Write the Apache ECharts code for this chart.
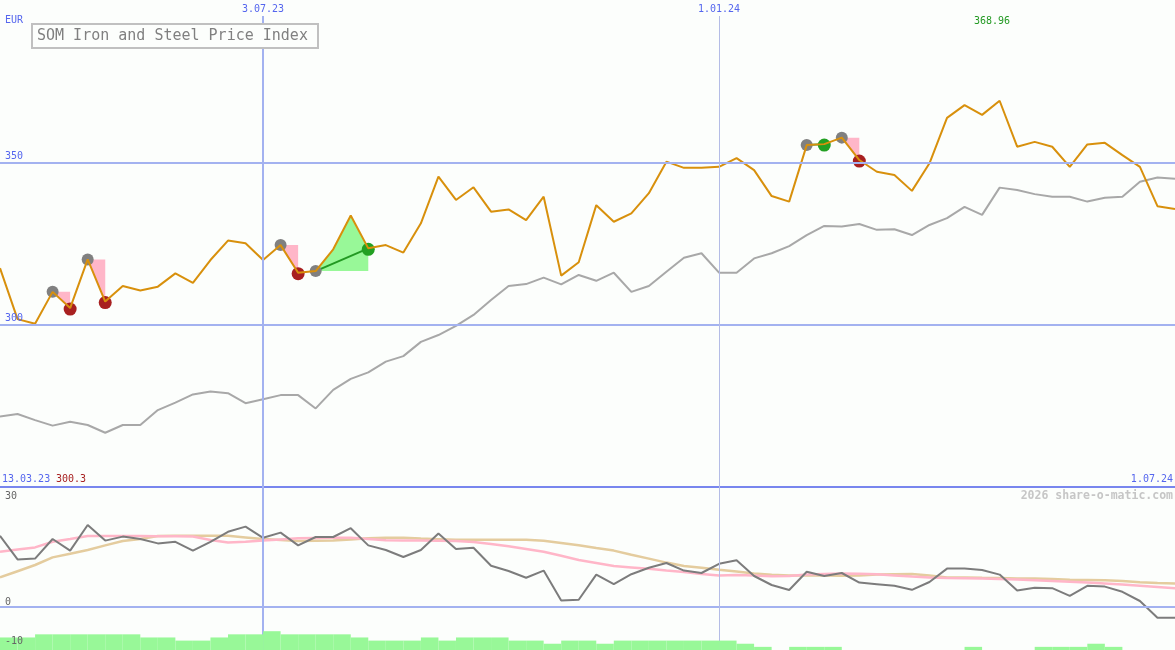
<!DOCTYPE html>
<html>
<head>
<meta charset="utf-8">
<script src="https://cdn.jsdelivr.net/npm/echarts@6/dist/echarts.min.js"></script>
<style>
html,body{margin:0;padding:0;background:#fcfefc;}
#chart{width:1175px;height:650px;}
</style>
</head>
<body>
<div id="chart"></div>
<script>
// Weekly dates (categories)
const dates = ['20.03.23','27.03.23','3.04.23','10.04.23','17.04.23','24.04.23','1.05.23','8.05.23','15.05.23','22.05.23',
 '29.05.23','5.06.23','12.06.23','19.06.23','26.06.23','3.07.23','10.07.23','17.07.23','24.07.23','31.07.23',
 '7.08.23','14.08.23','21.08.23','28.08.23','4.09.23','11.09.23','18.09.23','25.09.23','2.10.23','9.10.23',
 '16.10.23','23.10.23','30.10.23','6.11.23','13.11.23','20.11.23','27.11.23','4.12.23','11.12.23','18.12.23',
 '25.12.23','1.01.24','8.01.24','15.01.24','22.01.24','29.01.24','5.02.24','12.02.24','19.02.24','26.02.24',
 '4.03.24','11.03.24','18.03.24','25.03.24','1.04.24','8.04.24','15.04.24','22.04.24','29.04.24','6.05.24',
 '13.05.24','20.05.24','27.05.24','3.06.24','10.06.24','17.06.24','24.06.24','1.07.24'];

// Price index (EUR)
const price = [317.4,301.7,300.3,310.1,305.1,320.1,307.1,311.9,310.5,311.7,
 315.8,312.9,319.9,325.9,325.1,319.9,324.5,316.0,316.5,323.2,
 333.6,323.5,324.5,322.2,331.2,345.6,338.4,342.3,334.8,335.5,
 332.2,339.4,315.1,319.2,336.8,331.7,334.3,340.5,350.2,348.3,
 348.3,348.6,351.3,347.6,339.6,337.9,355.3,355.6,357.6,350.7,
 347.1,346.1,341.2,349.7,363.7,367.6,364.6,368.96,354.8,356.3,
 354.8,348.6,355.5,356.0,352.2,348.6,336.5,335.6];

// Moving average (gray)
const movingAvg = [271.7,272.5,270.6,268.9,270.1,269.1,266.7,269.1,269.1,273.7,
 276.0,278.5,279.4,278.9,275.8,277.0,278.3,278.3,274.2,279.9,
 283.3,285.3,288.6,290.3,294.7,296.8,299.6,303.0,307.6,311.9,
 312.5,314.5,312.4,315.3,313.5,316.0,310.1,311.9,316.3,320.6,
 322.0,316.0,316.0,320.4,322.0,324.2,327.6,330.4,330.2,331.0,
 329.2,329.4,327.6,330.7,332.8,336.3,333.8,342.2,341.5,340.2,
 339.4,339.4,337.9,339.1,339.4,344.0,345.3,344.9];

// Lower panel oscillator
const osc = [17.8,11.9,12.1,17.0,14.1,20.5,16.6,17.6,17.0,15.9,
 16.3,14.1,16.3,18.8,20.1,17.3,18.6,15.4,17.5,17.5,
 19.7,15.4,14.25,12.5,14.25,18.4,14.5,14.8,10.3,9.0,
 7.3,9.1,1.6,1.8,8.1,5.7,8.2,9.8,11.0,9.1,
 8.5,10.8,11.7,7.75,5.5,4.25,8.8,7.75,8.5,6.1,
 5.7,5.3,4.3,6.25,9.6,9.6,9.25,8.1,4.1,4.8,
 4.7,2.8,5.3,5.1,3.8,1.5,-2.7,-2.7];
const oscPink = [13.8,14.4,14.9,16.3,17.0,17.75,17.75,17.75,17.75,17.7,
 17.7,17.6,16.75,16.1,16.3,16.6,16.9,17.2,17.25,17.3,
 17.3,17.0,16.7,16.6,16.6,16.55,16.5,16.25,15.75,15.2,
 14.5,13.8,12.8,11.75,11.0,10.25,9.9,9.55,9.1,8.75,
 8.25,7.9,8.0,7.9,7.7,7.75,8.1,8.25,8.4,8.3,
 8.2,7.9,7.6,7.4,7.25,7.2,7.15,7.0,6.9,6.7,
 6.5,6.3,6.1,5.85,5.6,5.3,5.0,4.7];
const oscTan = [7.4,8.95,10.5,12.4,13.3,14.25,15.4,16.5,17.0,17.75,
 17.8,17.8,17.8,17.8,17.4,17.0,16.75,16.5,16.55,16.6,
 16.9,17.2,17.3,17.3,17.1,16.95,16.8,16.8,16.8,16.8,
 16.8,16.55,16.0,15.45,14.75,14.1,13.05,12.1,11.1,10.25,
 9.8,9.3,8.85,8.4,8.05,7.9,7.9,7.9,7.8,7.9,
 8.1,8.2,8.25,7.85,7.4,7.4,7.3,7.25,7.15,7.1,
 7.0,6.8,6.75,6.7,6.5,6.2,6.0,5.9];

// Weekly histogram (one bar per week interval)
const histo = [4,4,5,5,5,5,5,5,4,4,3,3,4,5,5,6,5,5,5,5,4,3,3,3,4,3,4,4,4,3,3,2,3,3,2,3,3,3,3,3,3,3,2,1,0,1,1,1,0,0,0,0,0,0,0,1,0,0,0,1,1,1,2,1,0,0,0];

// Signals: [type, fromIndex, toIndex]
const signals = [['fall',3,4],['fall',5,6],['fall',16,17],['rise',18,21],['rise',46,47],['fall',48,49]];

// Tick / annotation labels
const priceTicks = [350, 300];
const oscTicks = ['30','0','-10'];
const markDates = ['3.07.23','1.01.24'];
const startLabel = '13.03.23', endLabel = '1.07.24', maxLabel = '368.96', minLabel = '300.3';
const title = 'SOM Iron and Steel Price Index';
const unit = 'EUR';
const credit = '2026 share-o-matic.com';

const MONO = '"DejaVu Sans Mono", "Liberation Mono", monospace';
const BLUE_TXT = '#5566ee';
const LIGHT_BLUE = '#a3b2f0';

const chart = echarts.init(document.getElementById('chart'));

const smallLabel = (txt, color) => ({show:true, formatter: txt, color: color, fontFamily: MONO, fontSize: 10});

const option = {
  backgroundColor: '#fcfefc',
  animation: false,
  grid: [
    {left:0, right:0, top:16, height:471},
    {left:0, right:0, top:487, height:163}
  ],
  xAxis: [
    {type:'category', data:dates, boundaryGap:false, gridIndex:0, show:false},
    {type:'category', data:dates, boundaryGap:false, gridIndex:1, show:false},
    {type:'category', data:dates.slice(0, dates.length-1), boundaryGap:true, gridIndex:1, show:false}
  ],
  yAxis: [
    {type:'value', min:250, max:395.06, gridIndex:0, show:false},
    {type:'value', min:-10.75, max:30, gridIndex:1, show:false},
    {type:'value', min:0, max:52, gridIndex:1, show:false}
  ],
  graphic: [
    {type:'text', left:5, top:15, style:{text:unit, fill:BLUE_TXT, font:'10px '+MONO}},
    {type:'rect', shape:{x:32, y:24, width:286, height:24}, style:{fill:'#fcfefc', stroke:'#c0c0c0', lineWidth:2}, z:10},
    {type:'text', x:37, y:36, style:{text:title, fill:'#808080', font:'15px '+MONO, textVerticalAlign:'middle'}, z:11},
    {type:'text', x:992, y:21, style:{text:maxLabel, fill:'#229922', font:'10px '+MONO, textAlign:'center', textVerticalAlign:'middle'}},
    {type:'text', x:2, y:479, style:{text:startLabel, fill:BLUE_TXT, font:'10px '+MONO, textVerticalAlign:'middle'}},
    {type:'text', x:56, y:479, style:{text:minLabel, fill:'#a82222', font:'10px '+MONO, textVerticalAlign:'middle'}},
    {type:'text', x:1173, y:479, style:{text:endLabel, fill:BLUE_TXT, font:'10px '+MONO, textAlign:'right', textVerticalAlign:'middle'}},
    {type:'text', x:5, y:496, style:{text:oscTicks[0], fill:'#666666', font:'10px '+MONO, textVerticalAlign:'middle'}},
    {type:'text', x:5, y:602, style:{text:oscTicks[1], fill:'#666666', font:'10px '+MONO, textVerticalAlign:'middle'}},
    {type:'text', x:5, y:641, style:{text:oscTicks[2], fill:'#666666', font:'10px '+MONO, textVerticalAlign:'middle'}, z:20},
    {type:'text', x:1173, y:496, style:{text:credit, fill:'#c6c6c6', font:'bold 11.5px '+MONO, textAlign:'right', textVerticalAlign:'middle'}}
  ],
  series: [
    {
      name:'signals', type:'custom', xAxisIndex:0, yAxisIndex:0, z:1,
      data: signals.map(s => [s[1], price[s[1]]]),
      renderItem: function(params, api){
        const s = signals[params.dataIndex];
        const a = s[1], b = s[2];
        const pa = api.coord([a, price[a]]);
        const pb = api.coord([b, price[b]]);
        const children = [];
        if (s[0] === 'fall') {
          children.push({type:'polygon', shape:{points:[pa, [pb[0], pa[1]], pb]}, style:{fill:'#ffb6c8'}});
        } else {
          const pts = [];
          for (let k = a; k <= b; k++) pts.push(api.coord([k, price[k]]));
          pts.push([pb[0], pa[1]]);
          children.push({type:'polygon', shape:{points:pts}, style:{fill:'#98f898'}});
          children.push({type:'line', shape:{x1:pa[0], y1:pa[1], x2:pb[0], y2:pb[1]}, style:{stroke:'#229922', lineWidth:2}});
        }
        children.push({type:'circle', shape:{cx:pa[0], cy:pa[1], r:6}, style:{fill:'#808080'}});
        children.push({type:'circle', shape:{cx:pb[0], cy:pb[1]+1, r:6.5}, style:{fill: s[0]==='fall' ? '#a82020' : '#22a022'}});
        return {type:'group', children: children};
      }
    },
    {
      name:'avg', type:'line', xAxisIndex:0, yAxisIndex:0, data:movingAvg, symbol:'none', z:2,
      lineStyle:{color:'#a8a8a8', width:2},
      markLine: {
        silent:true, symbol:'none', animation:false,
        data: [
          {yAxis:priceTicks[0], lineStyle:{color:LIGHT_BLUE, width:2, type:'solid'},
            label:Object.assign(smallLabel(String(priceTicks[0]), BLUE_TXT), {position:'insideStartTop', distance:[5,1]})},
          {yAxis:priceTicks[1], lineStyle:{color:LIGHT_BLUE, width:2, type:'solid'},
            label:Object.assign(smallLabel(String(priceTicks[1]), BLUE_TXT), {position:'insideStartTop', distance:[5,1]})},
          {yAxis:250, lineStyle:{color:'#7886ee', width:2, type:'solid'}, label:{show:false}},
          {xAxis:markDates[0], lineStyle:{color:LIGHT_BLUE, width:2, type:'solid'},
            label:Object.assign(smallLabel(markDates[0], BLUE_TXT), {position:'end', distance:2})},
          {xAxis:markDates[1], lineStyle:{color:'#b4bce6', width:1, type:'solid'},
            label:Object.assign(smallLabel(markDates[1], BLUE_TXT), {position:'end', distance:2})}
        ]
      }
    },
    {
      name:'price', type:'line', xAxisIndex:0, yAxisIndex:0, data:price, symbol:'none', z:3,
      lineStyle:{color:'#d8900c', width:2}
    },
    {
      name:'histo', type:'bar', xAxisIndex:2, yAxisIndex:2, data:histo, barCategoryGap:'0%', z:5,
      itemStyle:{color:'#98f898'}
    },
    {
      name:'tan', type:'line', xAxisIndex:1, yAxisIndex:1, data:oscTan, symbol:'none', z:2,
      lineStyle:{color:'#e4cc9e', width:2.5},
      markLine: {
        silent:true, symbol:'none', animation:false, label:{show:false},
        data: [
          {yAxis:0, lineStyle:{color:LIGHT_BLUE, width:2, type:'solid'}},
          {xAxis:markDates[0], lineStyle:{color:LIGHT_BLUE, width:2, type:'solid'}},
          {xAxis:markDates[1], lineStyle:{color:'#b4bce6', width:1, type:'solid'}}
        ]
      }
    },
    {
      name:'pink', type:'line', xAxisIndex:1, yAxisIndex:1, data:oscPink, symbol:'none', z:3,
      lineStyle:{color:'#ffb6c8', width:2.5}
    },
    {
      name:'osc', type:'line', xAxisIndex:1, yAxisIndex:1, data:osc, symbol:'none', z:4,
      lineStyle:{color:'#7c7c7c', width:2}
    }
  ]
};
chart.setOption(option);
</script>
</body>
</html>
